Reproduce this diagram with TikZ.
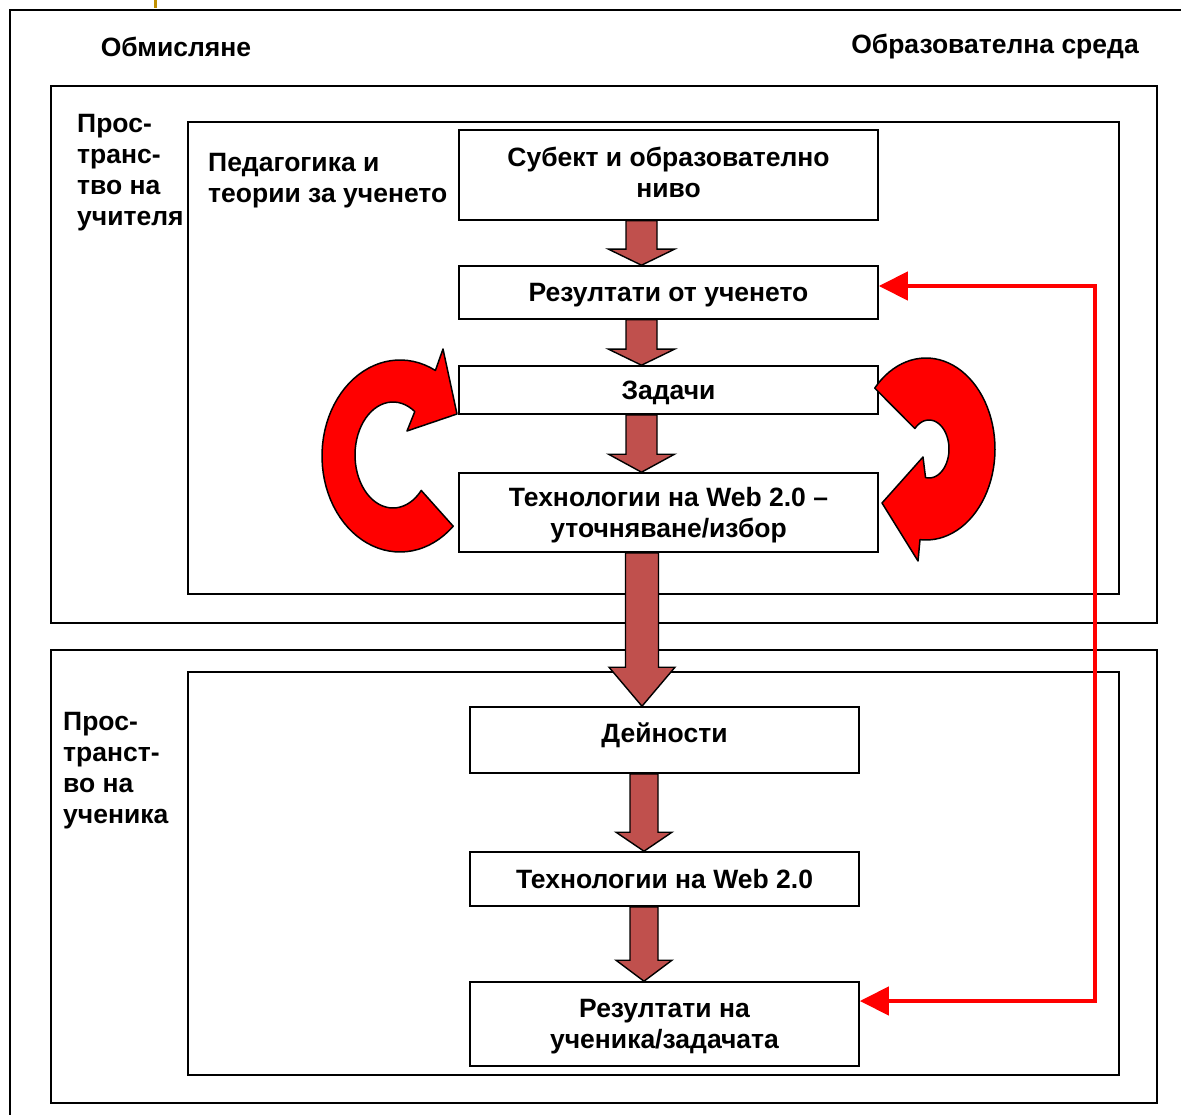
\documentclass[tikz,border=0pt]{standalone}
\usepackage{fontspec}
\setmainfont{Liberation Sans}
\usetikzlibrary{arrows.meta,calc}
\definecolor{shaftred}{HTML}{C0504D}
\definecolor{markgold}{HTML}{C09000}
\newcommand\labfont{\fontsize{26.5}{31}\selectfont\bfseries}
% block arrow: x, from node, to node, head length, shaft half width, head half width
\newcommand\blockarrow[6]{%
  \draw[blockarr] let \p1=(#2.south), \p2=(#3.north) in
    (#1pt-#5pt,\y1) -- (#1pt-#5pt,\y2+#4pt) -- (#1pt-#6pt,\y2+#4pt) -- (#1pt,\y2)
    -- (#1pt+#6pt,\y2+#4pt) -- (#1pt+#5pt,\y2+#4pt) -- (#1pt+#5pt,\y1) -- cycle;}

\begin{document}
\begin{tikzpicture}[x=1pt,y=-1pt,
  frame/.style={line width=1.6pt},
  stepbox/.style={draw,line width=1.6pt,align=center,font=\labfont,inner sep=2pt,text depth=0pt},
  lab/.style={font=\labfont,inner sep=0pt},
  blockarr/.style={draw=black,fill=shaftred,line width=1.4pt,line join=miter},
  loop/.style={draw=black,fill=red,line width=1.5pt,line join=round},
  fbline/.style={draw=red,line width=4.5pt,line join=miter}]
\useasboundingbox (0,0) rectangle (1181,1115);
\fill[markgold] (154,0) rectangle (157,8);
% outer frame and the two spaces
\draw[frame] (1181,10) -- (10,10) -- (10,1115);
\draw[frame] (51,86) rectangle (1157,623);
\draw[frame] (188,122) rectangle (1119,594);
\draw[frame] (51,650) rectangle (1157,1103);
\draw[frame] (188,672) rectangle (1119,1075);

\node[lab] (think) at (176,47) {Обмисляне};
\node[lab] (env) at (995,47) {Образователна среда};
\node[lab,anchor=west,align=left] (tsp) at (77,173) {Прос-\\транс-\\тво на\\учителя};
\node[lab,anchor=west,align=left] (ped) at (208,181) {Педагогика и\\теории за ученето};
\node[lab,anchor=west,align=left] (ssp) at (63,771) {Прос-\\транст-\\во на\\ученика};

% teacher space
\node[stepbox,minimum width=419pt,minimum height=90pt,text depth=6pt] (b1) at (668.5,175) {Субект и образователно\\ниво};
\node[stepbox,minimum width=419pt,minimum height=53pt] (b2) at (668.5,292.5) {Резултати от ученето};
\node[stepbox,minimum width=419pt,minimum height=48pt] (b3) at (668.5,390) {Задачи};
\node[stepbox,minimum width=419pt,minimum height=79pt,text depth=-4pt] (b4) at (668.5,512.5) {Технологии на Web 2.0 –\\уточняване/избор};
% student space
\node[stepbox,minimum width=389pt,minimum height=66pt,text depth=15pt] (b5) at (664.5,740) {Дейности};
\node[stepbox,minimum width=389pt,minimum height=54pt] (b6) at (664.5,879) {Технологии на Web 2.0};
\node[stepbox,minimum width=389pt,minimum height=84pt] (b7) at (664.5,1024) {Резултати на\\ученика/задачата};

\blockarrow{641.5}{b1}{b2}{16}{15.5}{33}
\blockarrow{641.5}{b2}{b3}{16}{15.5}{33}
\blockarrow{641.5}{b3}{b4}{18}{15.5}{33}
\blockarrow{642}{b4}{b5}{39}{16.5}{33}
\blockarrow{644}{b5}{b6}{19}{14}{28}
\blockarrow{644}{b6}{b7}{21}{14}{28}

% curved arrows
\filldraw[loop] plot[domain=47:297,samples=60] ({400+78*cos(\x)},{456+96*sin(\x)})
  -- (443,349) -- (457,414) -- (407,431)
  -- plot[domain=-305:-42,samples=50] ({393+38*cos(\x)},{455-53*sin(\x)}) -- cycle;
\filldraw[loop] plot[domain=-138:95,samples=60] ({926+69*cos(\x)},{449+91*sin(\x)})
  -- (918,561) -- (882,503) -- (923,457)
  -- plot[domain=-100:135,samples=40] ({929+20*cos(\x)},{449-29*sin(\x)}) -- cycle;

% feedback line
\coordinate (fbtop) at (1095,286);
\coordinate (fbbot) at (1095,1001);
\draw[fbline,{Triangle[length=29pt,width=28pt]}-{Triangle[length=29pt,width=28pt]}]
  (fbtop -| b2.east) -- (fbtop) -- (fbbot) -- (fbbot -| b7.east);
\end{tikzpicture}
\end{document}
